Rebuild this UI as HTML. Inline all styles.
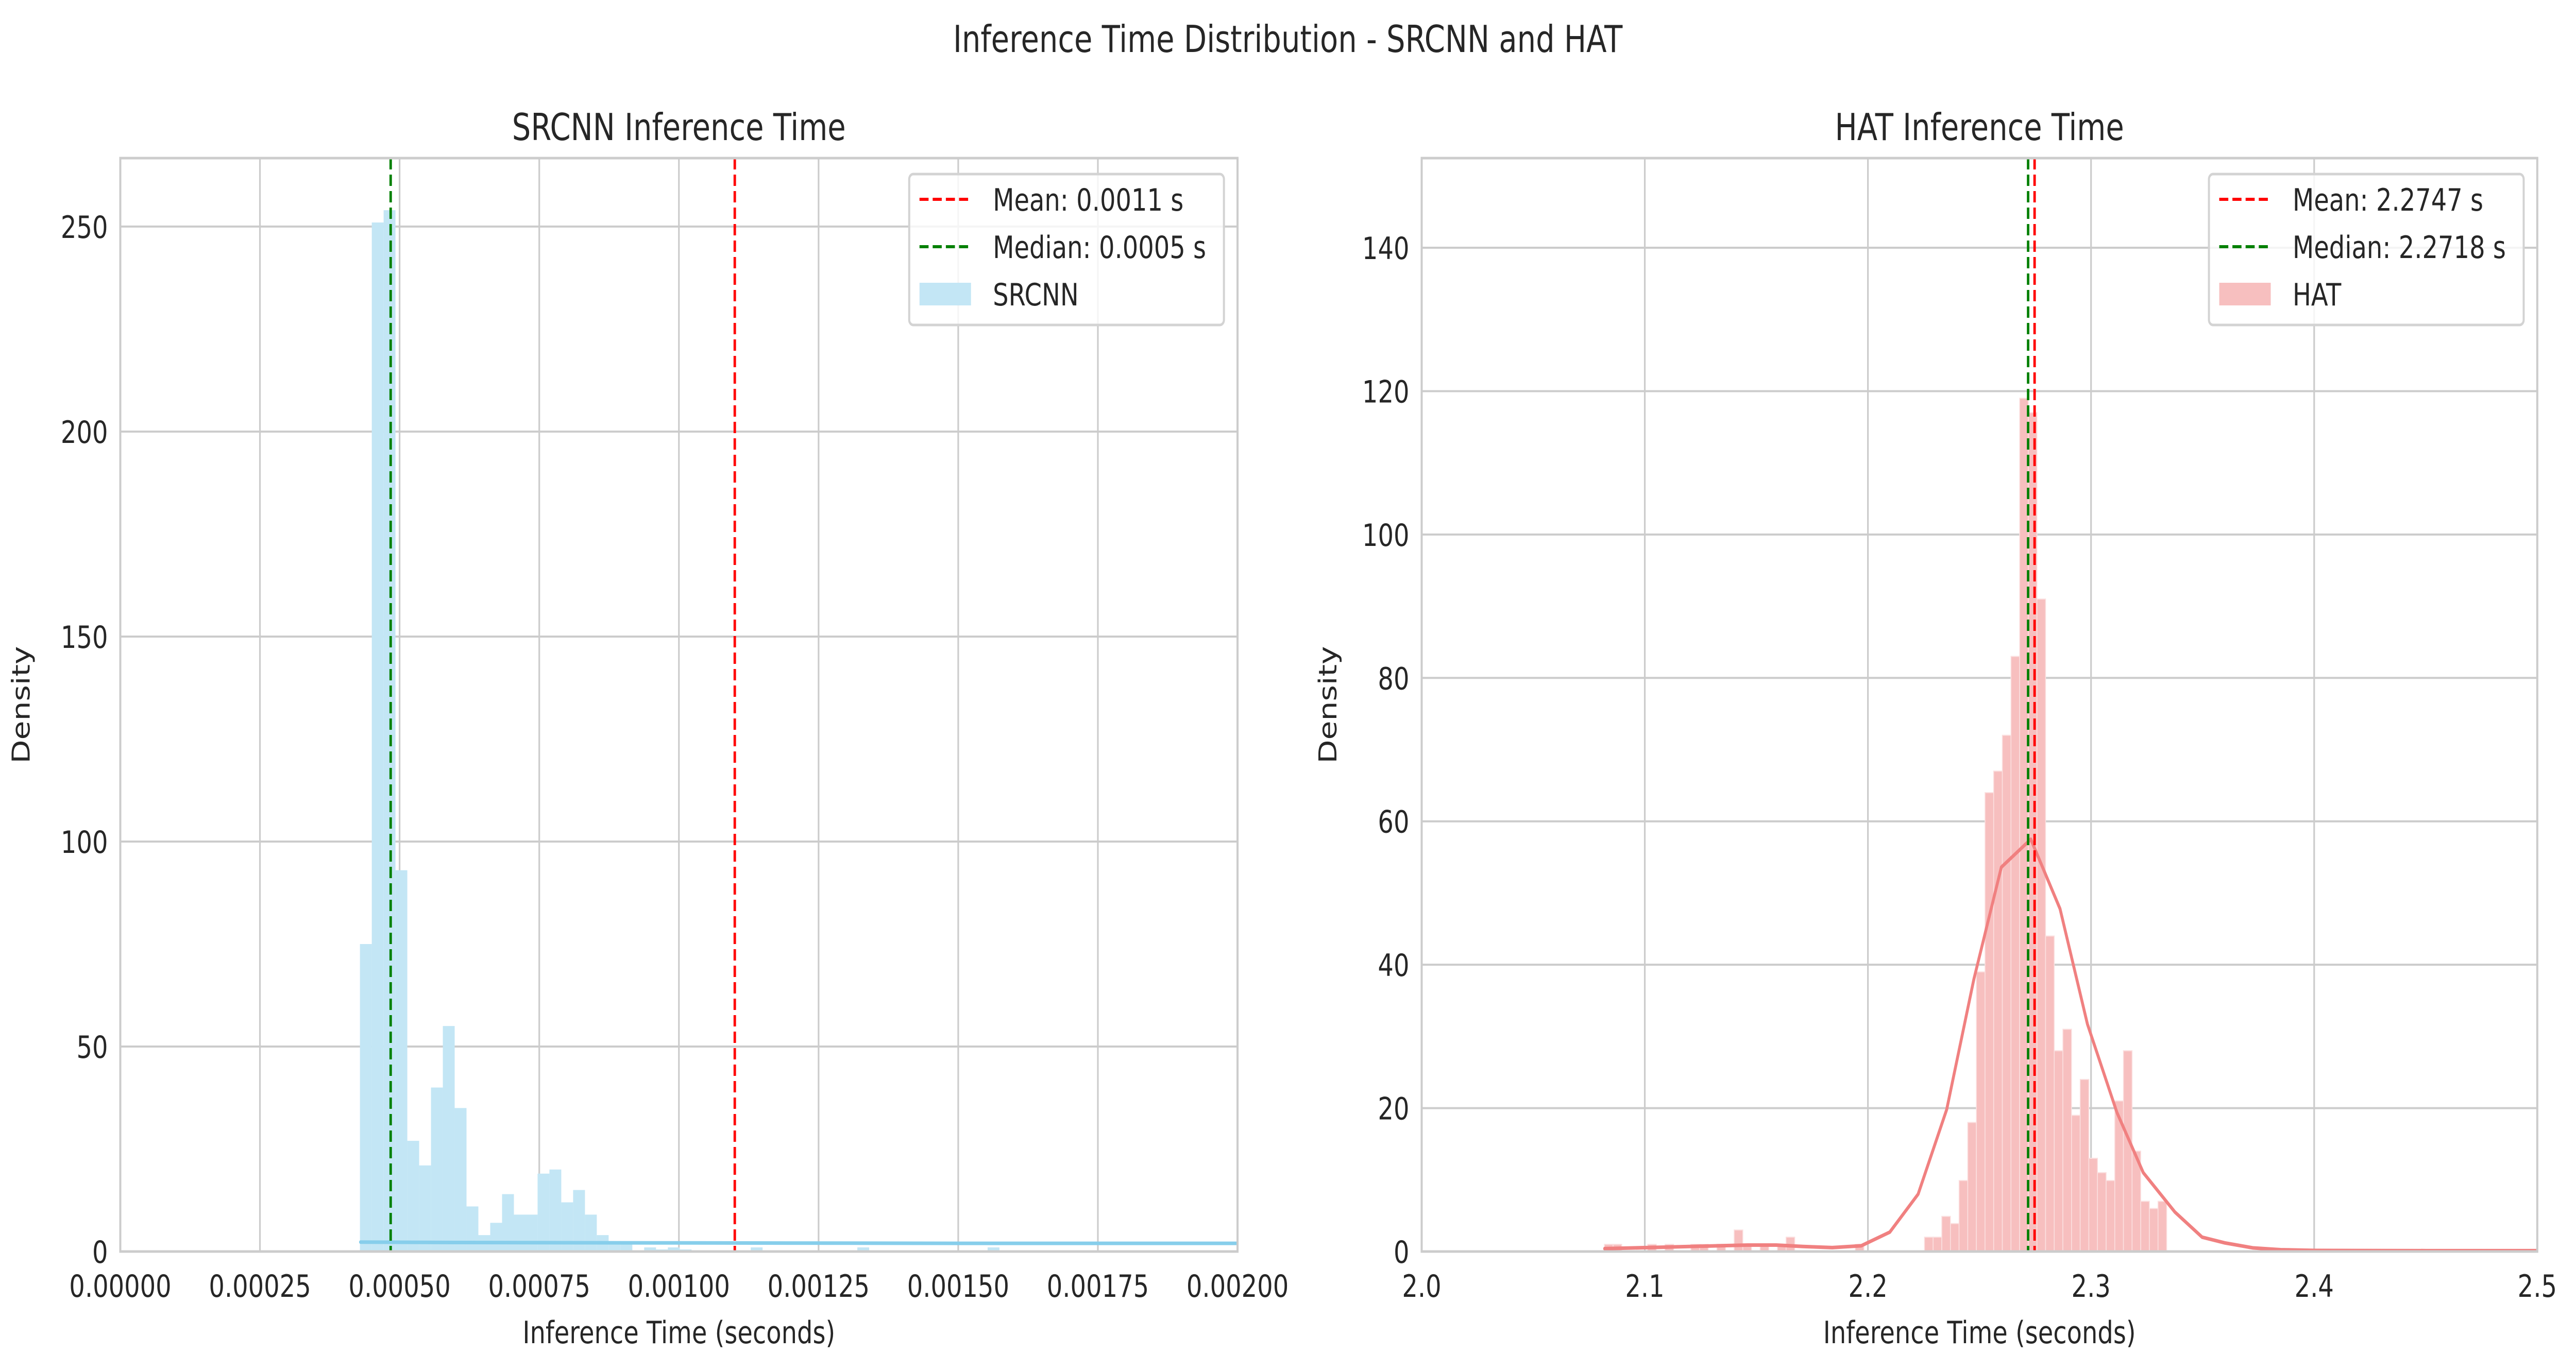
<!DOCTYPE html>
<html><head><meta charset="utf-8"><style>
html,body{margin:0;padding:0;background:#fff;overflow:hidden;}
svg{display:block;width:100vw;height:100vh;font-family:"DejaVu Sans","Liberation Sans",sans-serif;}
</style></head><body>
<svg id="fig" viewBox="0 0 6253 2662" preserveAspectRatio="none" xmlns="http://www.w3.org/2000/svg">
<rect width="6253" height="2662" fill="#fff"/>
<text x="3126" y="101" font-size="72" fill="#262626" text-anchor="middle">Inference Time Distribution - SRCNN and HAT</text>
<g id="left"></g>
<g id="right"></g>
</svg>
<script>
// ---- SRCNN data ----
const srcnnBinStart = 0.000429;
const srcnnBinWidth = 0.0000212;
const srcnnCounts = [75,251,254,93,27,21,40,55,35,11,4,7,14,9,9,19,20,12,15,9,4,2,2,0,1,0.5,1,0.5,0,0,0,0,0,1,0,0,0,0,0,0,0,0,1,0,0,0,0,0,0,0,0,0,0,1,0,0,0,0,0,0,0,0,0,0,0,0,0,0,0,0,0,0,0,0];
const srcnnKdeX = [0.00043,0.0006,0.001,0.0015,0.002];
const srcnnKdeY = [2.3,2.2,2.1,2.0,2.0];
const srcnnMean = 0.0011, srcnnMedian = 0.000484;
const srcnnXTicks = ["0.00000","0.00025","0.00050","0.00075","0.00100","0.00125","0.00150","0.00175","0.00200"];
const srcnnYTicks = [0,50,100,150,200,250];
// ---- HAT data ----
const hatBinStart = 2.0819;
const hatBinWidth = 0.003877;
const hatCounts = [1,1,0,0,0,1,0,1,0,0,1,1,0,1,0,3,1,0,1,0,1,2,0,0,0,0,0,0,0,1,0,0,0,0,0,0,0,
  2,2,4.9,3.9,9.9,18,39,64,67,72,83,119,117,91,44,28,31,19,24,13,11,9.9,21,28,14,7,6,7];
const hatKdeX = [2.082,2.095,2.108,2.12,2.133,2.146,2.159,2.171,2.184,2.197,2.2098,2.2225,2.2353,2.2475,2.2598,2.273,2.2861,2.2984,2.3116,2.3234,2.3376,2.3498,2.36,2.3727,2.385,2.40,2.45,2.5];
const hatKdeY = [0.4,0.5,0.6,0.7,0.8,0.9,0.9,0.7,0.55,0.8,2.7,8.0,19.8,38,53.6,57.5,47.8,31.7,19.4,11,5.5,2.0,1.2,0.5,0.25,0.15,0.12,0.12];
const hatMean = 2.2747, hatMedian = 2.2718;
const hatXTicks = ["2.0","2.1","2.2","2.3","2.4","2.5"];
const hatYTicks = [0,20,40,60,80,100,120,140];

const NS="http://www.w3.org/2000/svg";
function mk(parent,tag,attrs,text){const e=document.createElementNS(NS,tag);for(const k in attrs)e.setAttribute(k,attrs[k]);if(text!==undefined)e.textContent=text;parent.appendChild(e);return e;}

function panel(g,o){
  const L=o.L,R=o.R,T=307,B=2430;
  const sx=v=>L+(v-o.x0)/(o.x1-o.x0)*(R-L);
  const sy=v=>B-(v-o.y0)/(o.y1-o.y0)*(B-T);
  const clip=mk(g,'clipPath',{id:o.id+'clip'});mk(clip,'rect',{x:L,y:T,width:R-L,height:B-T});
  o.xt.forEach(t=>{const x=sx(parseFloat(t));
    const l=mk(g,'line',{x1:x,x2:x,y1:T,y2:B,stroke:'#cccccc','stroke-width':4});
    
    
    const tx=mk(g,'text',{x:x,y:2518,'font-size':60,fill:'#262626','text-anchor':'middle'},t);
    
    
  });
  o.yt.forEach(t=>{const y=sy(t);
    const l=mk(g,'line',{x1:L,x2:R,y1:y,y2:y,stroke:'#cccccc','stroke-width':4});
    
    
    const tx=mk(g,'text',{x:L-30,y:y+22,'font-size':60,fill:'#262626','text-anchor':'end'},String(t));
    
    
  });
  const cg=mk(g,'g',{'clip-path':'url(#'+o.id+'clip)'});
  o.counts.forEach((c,i)=>{ if(c<=0)return;
    const x0=sx(o.bs+i*o.bw),x1=sx(o.bs+(i+1)*o.bw);
    const r=mk(cg,'rect',{x:x0,y:sy(c),width:x1-x0,height:B-sy(c),fill:o.fill,stroke:o.edge,'stroke-width':o.edge==='none'?0:2});
    
    
  });
  const pts=o.kx.map((x,i)=>sx(x)+','+sy(o.ky[i])).join(' ');
  const kl=mk(cg,'polyline',{points:pts,fill:'none',stroke:o.line,'stroke-width':7,'stroke-linejoin':'round','stroke-linecap':'round'});
  
  
  const ml=mk(cg,'line',{x1:sx(o.mean),x2:sx(o.mean),y1:T,y2:B,stroke:'#ff0000','stroke-width':6,'stroke-dasharray':'22,10'});
  
  
  const md=mk(cg,'line',{x1:sx(o.median),x2:sx(o.median),y1:T,y2:B,stroke:'#008000','stroke-width':6,'stroke-dasharray':'22,10'});
  
  
  const sp=mk(g,'rect',{x:L,y:T,width:R-L,height:B-T,fill:'none',stroke:'#cccccc','stroke-width':5});
  
  
  const ti=mk(g,'text',{x:(L+R)/2,y:272,'font-size':72,fill:'#262626','text-anchor':'middle'},o.title);
  
  
  const xl=mk(g,'text',{x:(L+R)/2,y:2608,'font-size':60,fill:'#262626','text-anchor':'middle'},'Inference Time (seconds)');
  
  
  const yx=o.L-o.ylOff;
  const yl=mk(g,'text',{x:yx,y:(T+B)/2,'font-size':60,fill:'#262626','text-anchor':'middle',transform:'rotate(-90 '+yx+' '+(T+B)/2+')'},'Density');
  
  
  const lg=mk(g,'g',{});
  
  
  const lx=R-33-764, ly=338;
  mk(lg,'rect',{x:lx,y:ly,width:764,height:293,rx:10,fill:'#ffffff','fill-opacity':0.8,stroke:'#d3d3d3','stroke-width':5});
  const rows=[{t:o.meanLabel,c:'#ff0000'},{t:o.medLabel,c:'#008000'},{t:o.name,c:null}];
  rows.forEach((r,i)=>{const cy=ly+49+i*92;
    const e=mk(lg,'g',{});
    
    
    if(r.c) mk(e,'line',{x1:lx+25,x2:lx+150,y1:cy,y2:cy,stroke:r.c,'stroke-width':6,'stroke-dasharray':'22,10'});
    else mk(e,'rect',{x:lx+25,y:cy-22,width:125,height:44,fill:o.fill});
    mk(e,'text',{x:lx+203,y:cy+22,'font-size':60,fill:'#262626'},r.t);
  });
}
panel(document.getElementById('left'),{id:'l',L:292,R:3004,x0:0,x1:0.002,y0:0,y1:266.7,
  xt:srcnnXTicks,yt:srcnnYTicks,counts:srcnnCounts,bs:srcnnBinStart,bw:srcnnBinWidth,
  fill:'#c3e6f5',edge:'none',line:'#87ceeb',kx:srcnnKdeX,ky:srcnnKdeY,mean:srcnnMean,median:srcnnMedian,
  title:'SRCNN Inference Time',meanLabel:'Mean: 0.0011 s',medLabel:'Median: 0.0005 s',name:'SRCNN',ylOff:220});
panel(document.getElementById('right'),{id:'r',L:3451,R:6159,x0:2.0,x1:2.5,y0:0,y1:152.5,
  xt:hatXTicks,yt:hatYTicks,counts:hatCounts,bs:hatBinStart,bw:hatBinWidth,
  fill:'#f7bfbf',edge:'#fbe0e0',line:'#f08080',kx:hatKdeX,ky:hatKdeY,mean:hatMean,median:hatMedian,
  title:'HAT Inference Time',meanLabel:'Mean: 2.2747 s',medLabel:'Median: 2.2718 s',name:'HAT',ylOff:207});
</script>
</body></html>
